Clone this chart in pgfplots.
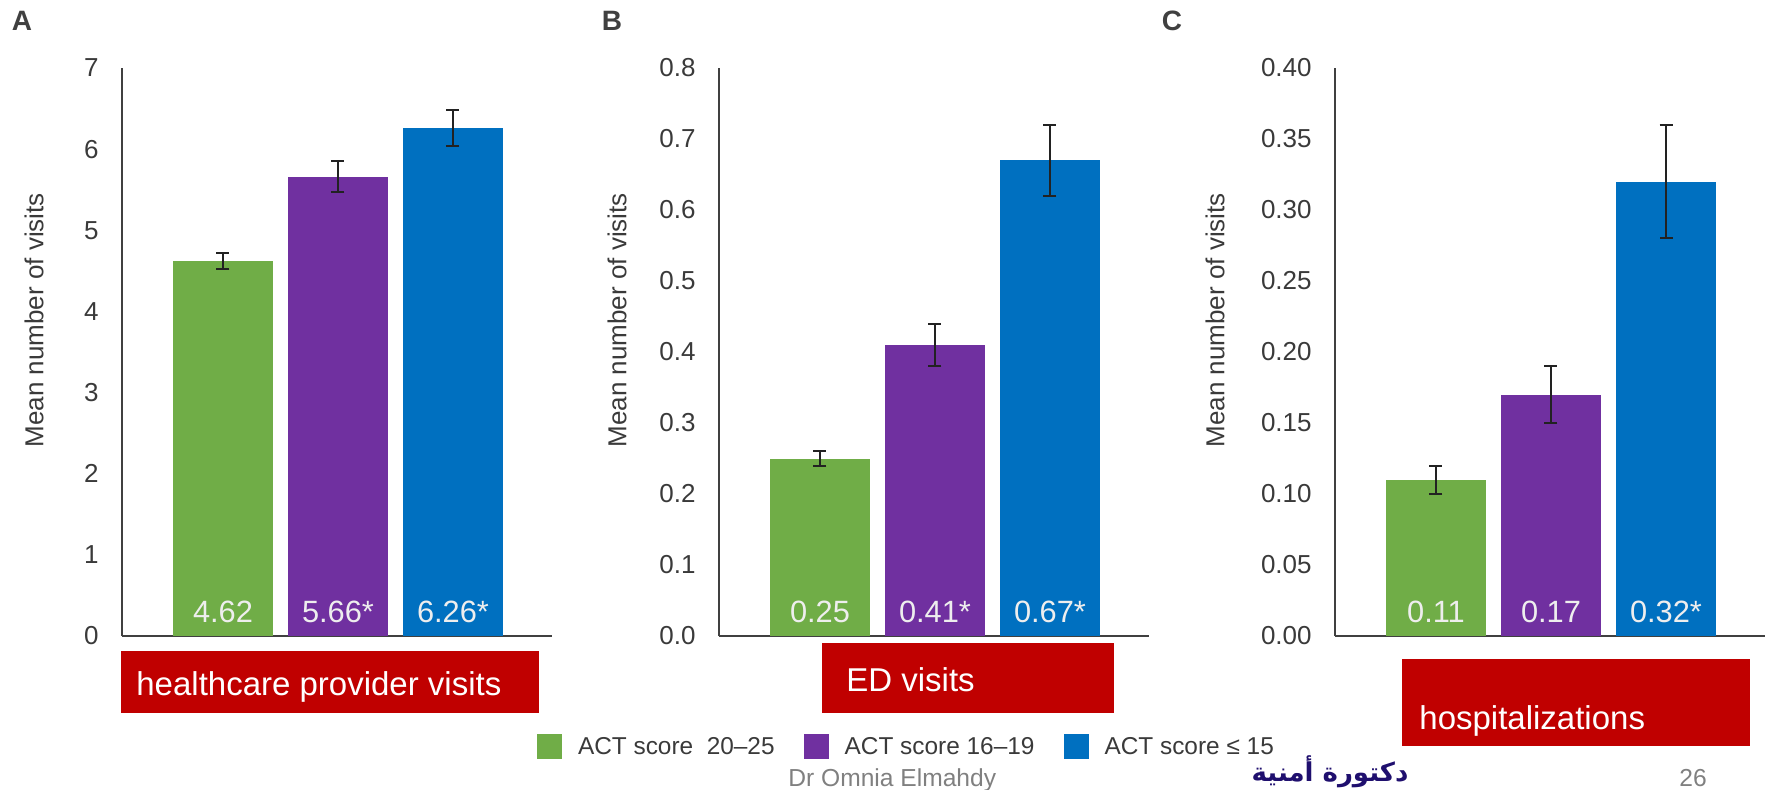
\documentclass[border=0pt]{standalone}
\usepackage{pgfplots}
\pgfplotsset{compat=1.18}
\usepackage{fontspec}
\setmainfont{Liberation Sans}
\newfontfamily\arabicfont[Script=Arabic]{DejaVu Sans}
\TeXXeTstate=1
\definecolor{cgreen}{HTML}{70AD47}
\definecolor{cpurple}{HTML}{7030A0}
\definecolor{cblue}{HTML}{0070C0}
\definecolor{cred}{HTML}{C00000}
\definecolor{axisgray}{HTML}{404040}
\definecolor{tickgray}{HTML}{3A3A3A}
\definecolor{errcol}{HTML}{222222}
\definecolor{labwhite}{HTML}{EEEEEE}
\definecolor{footgray}{HTML}{808080}
\definecolor{inkblue}{HTML}{1F0F6E}

\pgfplotsset{
  panel/.style={
    scale only axis, width=215pt, height=284pt,
    anchor=south west,
    xmin=-0.878, xmax=2.861, ymin=0,
    axis x line*=bottom, axis y line*=left,
    axis line style={-, draw=axisgray, line width=1.25pt},
    xtick=\empty, major tick length=0pt,
    /pgf/number format/assume math mode=true,
    yticklabel style={anchor=east, inner sep=0pt, xshift=-11.5pt,
      font=\fontsize{13}{15}\selectfont, text=tickgray},
    ylabel={Mean number of visits},
    ylabel style={font=\fontsize{13}{15}\selectfont, text=tickgray, anchor=center},
    clip=false,
  },
  sqleg/.style={legend image code/.code={%
      \fill[##1,draw=none] (0pt,-6.25pt) rectangle (12.5pt,6.25pt);
      \path (20.5pt,0pt);}},
  vbar/.style={ybar, bar width=50pt, bar shift=0pt, fill=#1, draw=none, sqleg,
    error bars/y dir=both, error bars/y explicit,
    error bars/error bar style={line width=1pt, draw=errcol, solid},
    error bars/error mark options={rotate=90, mark size=3.25pt, line width=1pt, draw=errcol, solid}},
  vlab/.style={draw=none, mark=none, forget plot, nodes near coords,
    point meta=explicit symbolic,
    nodes near coords style={anchor=base, inner sep=0pt, yshift=7pt,
      font=\fontsize{15.4}{17}\selectfont, text=labwhite}},
}

\begin{document}
\begin{tikzpicture}
\useasboundingbox (0,0) rectangle (886.5pt,394.5pt);

% Panel A
\begin{axis}[panel, at={(61pt,76.5pt)}, ymax=7, ytick={0,1,2,3,4,5,6,7},
  ylabel style={at={(axis description cs:-0.2047,0.556)}},
  legend columns=3,
  legend style={draw=none, fill=none, at={(axis description cs:0.9651,-0.1954)},
    anchor=west, inner sep=0pt, outer sep=0pt, column sep=0pt,
    font=\fontsize{12.2}{14}\selectfont, text=tickgray, nodes={inner sep=0pt},
    /tikz/every even column/.append style={column sep=14.5pt}}]
\addplot[vbar=cgreen] coordinates {(0,4.62) +- (0,0.10)};
\addlegendentry{ACT score\ \ 20–25}
\addplot[vbar=cpurple] coordinates {(1,5.66) +- (0,0.19)};
\addlegendentry{ACT score 16–19}
\addplot[vbar=cblue] coordinates {(2,6.26) +- (0,0.22)};
\addlegendentry{ACT score ≤ 15}
\addplot[vlab] coordinates {(0,0) [4.62] (1,0) [5.66*] (2,0) [6.26*]};
\end{axis}

% Panel B
\begin{axis}[panel, at={(359.5pt,76.5pt)}, ymax=0.8,
  ytick={0,0.1,0.2,0.3,0.4,0.5,0.6,0.7,0.8},
  yticklabel style={/pgf/number format/.cd, fixed, fixed zerofill, precision=1},
  ylabel style={at={(axis description cs:-0.2372,0.556)}}]
\addplot[vbar=cgreen] coordinates {(0,0.25) +- (0,0.01)};
\addplot[vbar=cpurple] coordinates {(1,0.41) +- (0,0.03)};
\addplot[vbar=cblue] coordinates {(2,0.67) +- (0,0.05)};
\addplot[vlab] coordinates {(0,0) [0.25] (1,0) [0.41*] (2,0) [0.67*]};
\end{axis}

% Panel C
\begin{axis}[panel, at={(667.5pt,76.5pt)}, ymax=0.40,
  ytick={0,0.05,0.10,0.15,0.20,0.25,0.30,0.35,0.40},
  yticklabel style={/pgf/number format/.cd, fixed, fixed zerofill, precision=2},
  ylabel style={at={(axis description cs:-0.2791,0.556)}}]
\addplot[vbar=cgreen] coordinates {(0,0.11) +- (0,0.01)};
\addplot[vbar=cpurple] coordinates {(1,0.17) +- (0,0.02)};
\addplot[vbar=cblue] coordinates {(2,0.32) +- (0,0.04)};
\addplot[vlab] coordinates {(0,0) [0.11] (1,0) [0.17] (2,0) [0.32*]};
\end{axis}

% Panel letters
\node[font=\fontsize{14}{16}\selectfont\bfseries, text=axisgray] at (11pt,384pt) {A};
\node[font=\fontsize{14}{16}\selectfont\bfseries, text=axisgray] at (306pt,384pt) {B};
\node[font=\fontsize{14}{16}\selectfont\bfseries, text=axisgray] at (586pt,384pt) {C};

% Red boxes
\fill[cred] (60.5pt,38pt) rectangle (269.5pt,69pt);
\node[anchor=base west, inner sep=0pt, text=white, font=\fontsize{16.5}{19}\selectfont] at (68pt,47pt) {healthcare provider visits};
\fill[cred] (411pt,38pt) rectangle (557pt,73pt);
\node[anchor=base west, inner sep=0pt, text=white, font=\fontsize{16.5}{19}\selectfont] at (423pt,49pt) {ED visits};
\fill[cred] (701pt,21.5pt) rectangle (875pt,65pt);
\node[anchor=base west, inner sep=0pt, text=white, font=\fontsize{16.5}{19}\selectfont] at (709.5pt,30pt) {hospitalizations};

% Footer
\node[anchor=base west, inner sep=0pt, text=footgray, font=\fontsize{12.3}{14}\selectfont] at (394pt,1.5pt) {Dr Omnia Elmahdy};
\node[anchor=base, inner sep=0pt, text=footgray, font=\fontsize{12.3}{14}\selectfont] at (846.5pt,1.5pt) {26};
\node[anchor=south, inner sep=0pt, text=inkblue, font=\arabicfont\bfseries\fontsize{13}{15}\selectfont] at (665pt,0.3pt) {\beginR دكتورة أمنية\endR};
\end{tikzpicture}
\end{document}
